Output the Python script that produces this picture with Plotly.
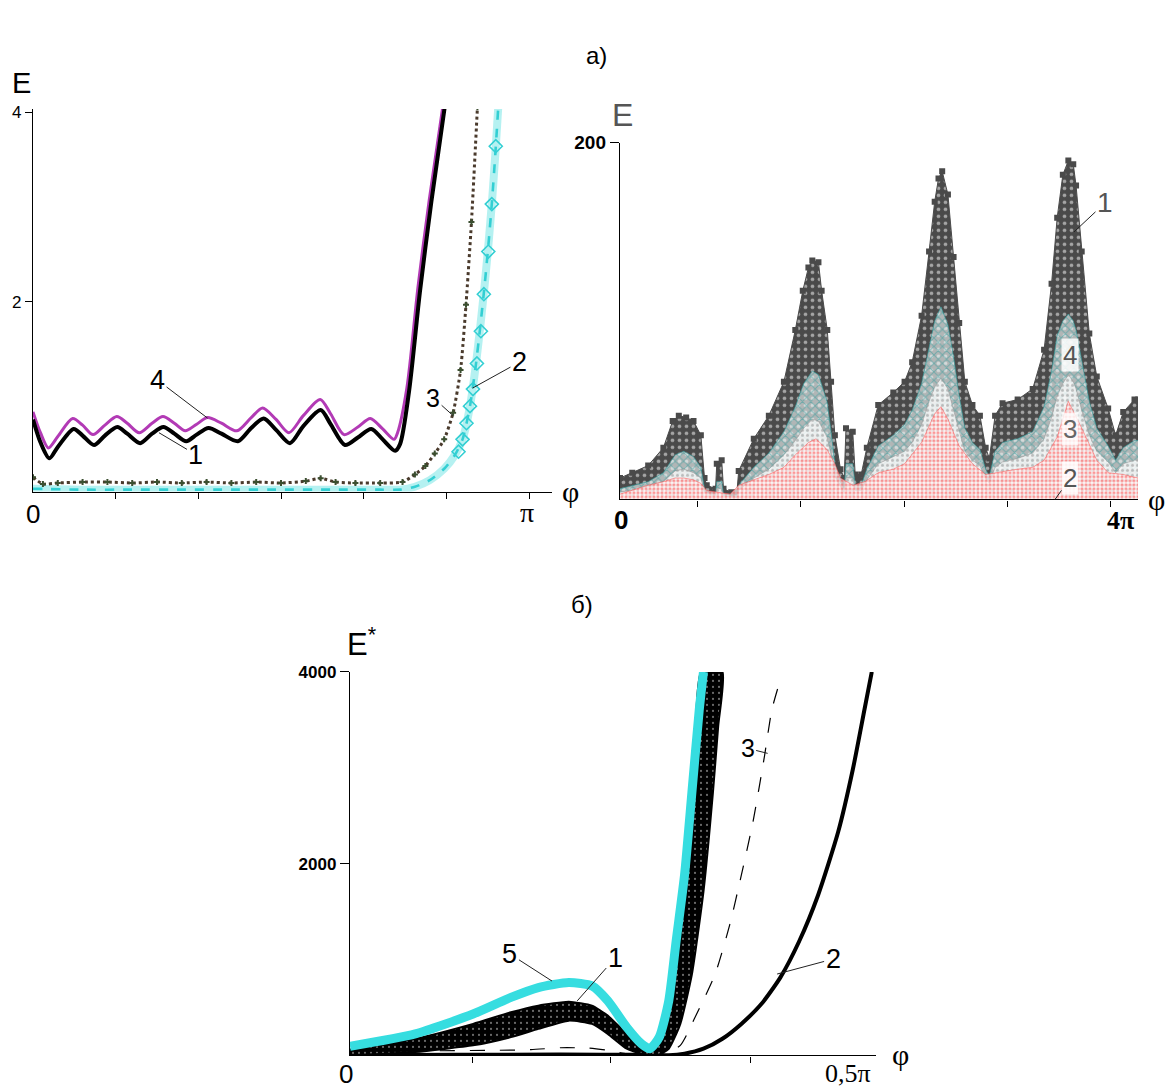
import plotly.graph_objects as go

W, H = 1167, 1091

# ---------------- panel a) left : phi in units of pi ----------------
a_phi_c4 = [0, 0.015, 0.031, 0.05, 0.08, 0.10, 0.121, 0.145, 0.169, 0.19, 0.214, 0.24, 0.262, 0.285,
            0.307, 0.33, 0.352, 0.38, 0.411, 0.44, 0.463, 0.49, 0.516, 0.545, 0.579, 0.60, 0.627, 0.655,
            0.680, 0.705, 0.728, 0.735, 0.754, 0.776, 0.799, 0.826]
a_E_c4 = [0.84, 0.62, 0.46, 0.58, 0.77, 0.70, 0.60, 0.70, 0.79, 0.72, 0.62, 0.72, 0.79, 0.72,
          0.64, 0.71, 0.78, 0.72, 0.64, 0.78, 0.88, 0.76, 0.62, 0.80, 0.97, 0.82, 0.60, 0.68,
          0.77, 0.66, 0.55, 0.62, 1.10, 2.15, 3.08, 4.05]

a_phi_c1 = [0, 0.015, 0.033, 0.05, 0.082, 0.10, 0.123, 0.145, 0.17, 0.19, 0.216, 0.24, 0.263, 0.285,
            0.309, 0.33, 0.354, 0.38, 0.413, 0.44, 0.465, 0.49, 0.518, 0.545, 0.58, 0.60, 0.629, 0.655,
            0.682, 0.705, 0.730, 0.740, 0.758, 0.780, 0.803, 0.830]
a_E_c1 = [0.76, 0.52, 0.35, 0.47, 0.66, 0.59, 0.49, 0.59, 0.68, 0.61, 0.51, 0.61, 0.68, 0.61,
          0.53, 0.60, 0.67, 0.61, 0.53, 0.67, 0.77, 0.65, 0.51, 0.69, 0.86, 0.71, 0.49, 0.57,
          0.66, 0.55, 0.43, 0.50, 1.05, 2.10, 3.05, 4.05]

a_phi_c3 = [0, 0.02, 0.05, 0.1, 0.15, 0.2, 0.25, 0.3, 0.35, 0.4, 0.45, 0.5, 0.55, 0.58, 0.61, 0.65,
            0.7, 0.745, 0.77, 0.791, 0.81, 0.829, 0.847, 0.862, 0.873, 0.884, 0.896]
a_E_c3 = [0.15, 0.08, 0.09, 0.10, 0.10, 0.09, 0.10, 0.09, 0.10, 0.09, 0.10, 0.09, 0.11, 0.14, 0.10, 0.09,
          0.09, 0.10, 0.18, 0.27, 0.40, 0.55, 0.83, 1.28, 1.97, 2.84, 4.05]

a_phi_c2 = [0, 0.1, 0.2, 0.3, 0.4, 0.5, 0.6, 0.7, 0.74, 0.77, 0.80, 0.829, 0.85, 0.866, 0.881,
            0.892, 0.902, 0.911, 0.919, 0.926, 0.932, 0.938]
a_E_c2 = [0.03, 0.02, 0.02, 0.02, 0.02, 0.02, 0.02, 0.02, 0.02, 0.05, 0.12, 0.24, 0.38, 0.55, 0.90,
          1.30, 1.75, 2.20, 2.65, 3.10, 3.55, 4.05]
a_phi_c2_mk = [0.858, 0.866, 0.874, 0.881, 0.887, 0.895, 0.903, 0.909, 0.918, 0.925, 0.933]
a_E_c2_mk = [0.42, 0.55, 0.72, 0.90, 1.08, 1.35, 1.69, 2.08, 2.53, 3.03, 3.64]

a_xticks = [1 / 6, 2 / 6, 3 / 6, 4 / 6, 5 / 6, 1]
a_yticks = [2, 4]

# ---------------- panel a) right : phi in units of pi ----------------
r_phi_s1 = [0, 0.10, 0.23, 0.354, 0.43, 0.48, 0.54, 0.60, 0.66, 0.69, 0.708, 0.78, 0.79, 0.83, 0.845,
            0.908, 0.954, 0.969, 1.092, 1.215, 1.338, 1.431, 1.492, 1.538, 1.57, 1.62, 1.646, 1.692,
            1.723, 1.754, 1.80, 1.83, 1.845, 1.90, 1.92, 1.969, 2.015, 2.108, 2.231, 2.323, 2.385,
            2.462, 2.523, 2.569, 2.60, 2.63, 2.677, 2.723, 2.769, 2.815, 2.877, 2.938, 2.985, 3.015,
            3.062, 3.123, 3.246, 3.369, 3.462, 3.523, 3.569, 3.615, 3.66, 3.70, 3.723, 3.769, 3.831,
            3.892, 3.985, 4.046, 4.108, 4.2, 4.231]
r_E_s1 = [12, 15, 19, 29, 44, 47, 46, 44, 36, 12, 8, 6, 20, 22, 6,
          4, 4, 16, 34, 47, 66, 95, 117, 130, 134, 133, 117, 95,
          66, 36, 17, 12, 40, 38, 14, 14, 29, 53, 60, 66, 77,
          103, 139, 167, 180, 184, 171, 136, 99, 66, 53, 47, 29, 23,
          47, 54, 56, 62, 84, 121, 158, 182, 190, 188, 176, 139, 93,
          69, 51, 36, 49, 56, 56]

r_phi_s4 = [0, 0.23, 0.354, 0.45, 0.52, 0.60, 0.66, 0.69, 0.708, 0.78, 0.79, 0.83, 0.845, 0.908, 0.954,
            0.969, 1.092, 1.215, 1.338, 1.431, 1.50, 1.57, 1.62, 1.69, 1.723, 1.754, 1.80, 1.83, 1.845,
            1.90, 1.92, 1.969, 2.015, 2.108, 2.231, 2.323, 2.385, 2.462, 2.523, 2.569, 2.62, 2.677,
            2.723, 2.769, 2.815, 2.877, 2.938, 2.985, 3.015, 3.062, 3.123, 3.246, 3.369, 3.462, 3.523,
            3.569, 3.615, 3.66, 3.70, 3.723, 3.769, 3.831, 3.892, 3.985, 4.046, 4.108, 4.2, 4.231]
r_E_s4 = [6, 10, 15, 25, 27, 24, 18, 6, 4, 3, 10, 10, 3, 2, 2,
          8, 18, 26, 38, 52, 65, 72, 70, 55, 38, 20, 10, 6, 20,
          20, 8, 8, 17, 30, 36, 42, 50, 65, 85, 100, 108, 98,
          80, 58, 40, 32, 28, 17, 13, 27, 32, 34, 38, 52, 72,
          92, 100, 104, 100, 95, 78, 55, 40, 30, 22, 29, 33, 33]

r_phi_s3 = [0, 0.23, 0.354, 0.45, 0.52, 0.60, 0.66, 0.69, 0.78, 0.79, 0.83, 0.845, 0.954, 0.969, 1.092,
            1.215, 1.338, 1.431, 1.50, 1.57, 1.62, 1.69, 1.723, 1.754, 1.80, 1.83, 1.845, 1.90, 1.92,
            1.969, 2.015, 2.108, 2.231, 2.323, 2.385, 2.462, 2.523, 2.569, 2.62, 2.677, 2.723, 2.769,
            2.815, 2.877, 2.938, 2.985, 3.015, 3.062, 3.123, 3.246, 3.369, 3.462, 3.523, 3.569, 3.615,
            3.66, 3.70, 3.723, 3.769, 3.831, 3.892, 3.985, 4.046, 4.108, 4.2, 4.231]
r_E_s3 = [4, 7, 10, 16, 17, 15, 12, 4, 2, 6, 6, 2, 1, 5, 12,
          17, 25, 33, 40, 45, 44, 35, 25, 13, 7, 4, 12, 12, 5,
          5, 11, 20, 24, 27, 32, 42, 55, 63, 68, 62, 50, 38,
          27, 22, 19, 12, 9, 18, 21, 23, 26, 34, 46, 58, 65,
          70, 66, 62, 50, 36, 27, 21, 15, 20, 22, 22]

r_phi_s2 = [0, 0.23, 0.354, 0.45, 0.52, 0.60, 0.66, 0.708, 0.80, 0.90, 0.97, 1.092, 1.215, 1.338, 1.431,
            1.54, 1.60, 1.69, 1.754, 1.80, 1.90, 2.0, 2.108, 2.231, 2.323, 2.462, 2.569, 2.62, 2.677,
            2.769, 2.877, 2.985, 3.062, 3.246, 3.369, 3.462, 3.569, 3.66, 3.769, 3.892, 3.985, 4.108,
            4.231]
r_E_s2 = [3, 8, 10, 12, 12, 11, 9, 5, 4, 3, 8, 11, 14, 18, 25,
          32, 34, 28, 20, 12, 8, 10, 15, 17, 20, 32, 48, 52, 45,
          30, 20, 14, 15, 17, 18, 22, 35, 55, 40, 22, 15, 14,
          12]

r_xticks = [0.63, 1.47, 2.32, 3.16, 4.0]
r_yticks = [200]

# ---------------- panel б) : phi in units of pi ----------------
b_phi_c5 = [0, 0.062, 0.117, 0.153, 0.179, 0.208, 0.230, 0.245, 0.263, 0.277, 0.285, 0.294, 0.303,
            0.310, 0.318, 0.325, 0.332, 0.336]
b_E_c5 = [95, 224, 431, 604, 707, 759, 724, 569, 293, 121, 69, 190, 569, 1190, 1880, 2743, 3605, 4000]

b_phi_c1_up = [0, 0.062, 0.117, 0.153, 0.179, 0.208, 0.230, 0.245, 0.263, 0.277, 0.286, 0.295, 0.303,
               0.312, 0.319, 0.327, 0.334]
b_E_c1_up = [60, 173, 328, 449, 518, 559, 518, 414, 224, 104, 69, 224, 638, 1328, 2053, 2915, 4000]
b_phi_c1_lo = [0, 0.062, 0.117, 0.153, 0.179, 0.208, 0.230, 0.245, 0.263, 0.277, 0.292, 0.303, 0.314,
               0.325, 0.336, 0.345, 0.350, 0.354]
b_E_c1_lo = [0, 35, 104, 190, 276, 362, 328, 224, 69, 17, 0, 69, 328, 845, 1708, 2743, 3433, 4000]

b_phi_c3 = [0, 0.073, 0.135, 0.172, 0.20, 0.226, 0.245, 0.263, 0.281, 0.299, 0.314, 0.328, 0.347,
            0.361, 0.372, 0.383, 0.394, 0.401, 0.409]
b_E_c3 = [0, 45, 52, 59, 79, 76, 52, 17, 3, 17, 104, 397, 845, 1363, 1880, 2432, 3122, 3605, 3916]

b_phi_c2 = [0, 0.1, 0.2, 0.28, 0.303, 0.318, 0.336, 0.354, 0.372, 0.391, 0.409, 0.427, 0.445, 0.464,
            0.478, 0.489, 0.496]
b_E_c2 = [0, 5, 8, 5, 0, 17, 69, 173, 328, 535, 811, 1190, 1673, 2329, 2984, 3605, 4000]

b_xticks = [0.116, 0.248, 0.381]
b_yticks = [2000, 4000]

# ======================================================================
SANS = "Liberation Sans, Arial, sans-serif"
SERIF = "Liberation Serif, Times New Roman, serif"

fig = go.Figure()

# ---- a) left ----
fig.add_trace(go.Scatter(x=a_phi_c2, y=a_E_c2, mode="lines", xaxis="x", yaxis="y",
                         line=dict(color="rgba(90,225,225,0.45)", width=8, shape="spline", smoothing=0.6),
                         hoverinfo="skip"))
fig.add_trace(go.Scatter(x=a_phi_c2, y=a_E_c2, mode="lines", xaxis="x", yaxis="y",
                         line=dict(color="#33cfd3", width=2.6, dash="dash", shape="spline", smoothing=0.6)))
fig.add_trace(go.Scatter(x=a_phi_c2_mk, y=a_E_c2_mk, mode="markers", xaxis="x", yaxis="y",
                         marker=dict(symbol="diamond-open", size=10, color="#33cfd3",
                                     line=dict(width=1.6, color="#33cfd3"))))
fig.add_trace(go.Scatter(x=a_phi_c3, y=a_E_c3, mode="lines+markers", xaxis="x", yaxis="y",
                         line=dict(color="#4a3a2c", width=3, dash="dot", shape="spline", smoothing=0.6),
                         marker=dict(symbol="cross", size=5, color="#3b4f30")))
fig.add_trace(go.Scatter(x=a_phi_c4, y=a_E_c4, mode="lines", xaxis="x", yaxis="y",
                         line=dict(color="#b23ab5", width=3, shape="spline", smoothing=0.8)))
fig.add_trace(go.Scatter(x=a_phi_c1, y=a_E_c1, mode="lines", xaxis="x", yaxis="y",
                         line=dict(color="#000000", width=4, shape="spline", smoothing=0.8)))

# ---- a) right ----
fig.add_trace(go.Scatter(x=r_phi_s1, y=r_E_s1, mode="lines+markers", xaxis="x2", yaxis="y2",
                         fill="tozeroy", fillcolor="#4a4a4a",
                         fillpattern=dict(shape=".", fgcolor="#ffffff", bgcolor="#4a4a4a",
                                          size=7, solidity=0.22),
                         line=dict(color="#4a4a4a", width=1),
                         marker=dict(symbol="square", size=6, color="#4a4a4a")))
fig.add_trace(go.Scatter(x=r_phi_s4, y=r_E_s4, mode="lines", xaxis="x2", yaxis="y2",
                         fill="tozeroy", fillcolor="rgba(255,255,255,0.5)",
                         fillpattern=dict(shape="x", fgcolor="#2f9c9c", bgcolor="rgba(240,248,248,0.62)",
                                          size=6, solidity=0.3),
                         line=dict(color="rgba(47,156,156,0.6)", width=1)))
fig.add_trace(go.Scatter(x=r_phi_s3, y=r_E_s3, mode="lines", xaxis="x2", yaxis="y2",
                         fill="tozeroy", fillcolor="rgba(255,255,255,0.7)",
                         fillpattern=dict(shape=".", fgcolor="#8a8a8a", bgcolor="rgba(252,252,252,0.8)",
                                          size=5, solidity=0.3),
                         line=dict(color="rgba(150,150,150,0.5)", width=1)))
fig.add_trace(go.Scatter(x=r_phi_s2, y=r_E_s2, mode="lines", xaxis="x2", yaxis="y2",
                         fill="tozeroy", fillcolor="rgba(255,255,255,0.6)",
                         fillpattern=dict(shape=".", fgcolor="#ff3b3b", bgcolor="rgba(255,248,248,0.7)",
                                          size=4, solidity=0.5),
                         line=dict(color="rgba(255,80,80,0.5)", width=1)))

# ---- б) ----
b_poly_phi = b_phi_c1_up + b_phi_c1_lo[::-1]
b_poly_E = b_E_c1_up + b_E_c1_lo[::-1]
fig.add_trace(go.Scatter(x=b_phi_c3, y=b_E_c3, mode="lines", xaxis="x3", yaxis="y3",
                         line=dict(color="#000000", width=1.2, dash="longdash", shape="spline", smoothing=0.6)))
fig.add_trace(go.Scatter(x=b_phi_c2, y=b_E_c2, mode="lines", xaxis="x3", yaxis="y3",
                         line=dict(color="#000000", width=4, shape="spline", smoothing=0.6)))
fig.add_trace(go.Scatter(x=b_poly_phi, y=b_poly_E, mode="lines", xaxis="x3", yaxis="y3",
                         fill="toself", fillcolor="#000000",
                         fillpattern=dict(shape=".", fgcolor="#ffffff", bgcolor="#000000",
                                          size=6, solidity=0.1),
                         line=dict(color="#000000", width=2, shape="spline", smoothing=0.5)))
fig.add_trace(go.Scatter(x=b_phi_c5, y=b_E_c5, mode="lines", xaxis="x3", yaxis="y3",
                         line=dict(color="#36dde0", width=9, shape="spline", smoothing=0.6)))

# ---- axes ----
def dom_x(p0, p1):
    return [p0 / W, p1 / W]


def dom_y(py_bottom, py_top):
    return [1 - py_bottom / H, 1 - py_top / H]


axis_common = dict(showline=True, linecolor="black", linewidth=1.4, showgrid=False, zeroline=False,
                   ticks="outside", tickcolor="black", tickwidth=1.3, fixedrange=True)

fig.update_layout(
    width=W, height=H, autosize=False,
    margin=dict(l=0, r=0, t=0, b=0),
    paper_bgcolor="white", plot_bgcolor="white",
    showlegend=False,
    xaxis=dict(domain=dom_x(33, 552), range=[0, (552 - 33) / 496], anchor="y",
               tickvals=a_xticks, showticklabels=False, ticklen=6, **axis_common),
    yaxis=dict(domain=dom_y(486, 100), range=[0, (486 - 100) / 95.75], anchor="x",
               tickvals=a_yticks, ticktext=[str(v) for v in a_yticks], ticklen=7,
               tickfont=dict(family=SANS, size=17, color="black"), **axis_common),
    xaxis2=dict(domain=dom_x(620, 1138), range=[0, (1138 - 620) / 122.5], anchor="y2",
                tickvals=r_xticks, showticklabels=False, ticklen=6, **axis_common),
    yaxis2=dict(domain=dom_y(494, 134), range=[0, 200], anchor="x2",
                tickvals=r_yticks, ticktext=["<b>%d</b>" % v for v in r_yticks], ticklen=9,
                tickfont=dict(family=SANS, size=19, color="black"), **axis_common),
    xaxis3=dict(domain=dom_x(350, 876), range=[0, 0.5], anchor="y3",
                tickvals=b_xticks, showticklabels=False, ticklen=6, **axis_common),
    yaxis3=dict(domain=dom_y(1055, 668), range=[0, 4000], anchor="x3",
                tickvals=b_yticks, ticktext=["<b>%d</b>" % v for v in b_yticks], ticklen=9,
                tickfont=dict(family=SANS, size=17, color="black"), **axis_common),
)

# ---- text ----
ann = []


def txt(px, py, s, size=20, family=SANS, color="black", **kw):
    ann.append(dict(x=px / W, y=1 - py / H, xref="paper", yref="paper", text=s, showarrow=False,
                    xanchor="center", yanchor="middle", font=dict(family=family, size=size, color=color), **kw))


txt(597, 46, "а)", 24)
txt(582, 600, "б)", 24)
txt(21, 74, "E", 29)
txt(622, 106, "E", 32, color="#555555")
txt(362, 638, "E<sup>*</sup>", 31)

txt(33, 509, "0", 26)
txt(527, 507, "π", 28, SERIF)
txt(570, 486, "φ", 30, SERIF)

txt(621, 515, "<b>0</b>", 26)
txt(1120, 515, "<b>4π</b>", 26, SERIF)
txt(1156, 494, "φ", 30, SERIF)

txt(346, 1074, "0", 26)
txt(848, 1073, "0,5π", 26, SERIF)
txt(900, 1054, "φ", 30, SERIF)


def lead(xr, yr, x, y, s, ax, ay, size=27, color="black", **kw):
    ann.append(dict(x=x, y=y, xref=xr, yref=yr, text=s, showarrow=True, arrowhead=0, arrowwidth=1,
                    arrowcolor="#222222", ax=ax, ay=ay, standoff=0,
                    font=dict(family=SANS, size=size, color=color), **kw))


# a) left
lead("x", "y", 0.254, 0.62, "1", 37, 22)
lead("x", "y", 0.352, 0.774, "4", -50, -38)
lead("x", "y", 0.847, 0.80, "3", -20, -18, size=25)
lead("x", "y", 0.886, 1.09, "2", 47, -26)
# a) right
lead("x2", "y2", 3.706, 150, "1", 31, -29, size=28, color="#555555")
txt(1070, 348, "4", 26, color="#555555", bgcolor="rgba(255,255,255,0.85)")
txt(1070, 423, "3", 26, color="#666666", bgcolor="rgba(255,255,255,0.8)")
lead("x2", "y2", 3.551, 0, "2", 15, -21, size=26, color="#555555", bgcolor="rgba(255,255,255,0.85)")
# б)
lead("x3", "y3", 0.192, 775, "5", -42, -27)
lead("x3", "y3", 0.216, 568, "1", 38, -43)
lead("x3", "y3", 0.397, 3150, "3", -20, -5, size=25)
lead("x3", "y3", 0.406, 848, "2", 56, -15)

fig.update_layout(annotations=ann)

fig.write_html("out.html", config={"displayModeBar": False},
               post_script="document.body.style.margin='0';")
